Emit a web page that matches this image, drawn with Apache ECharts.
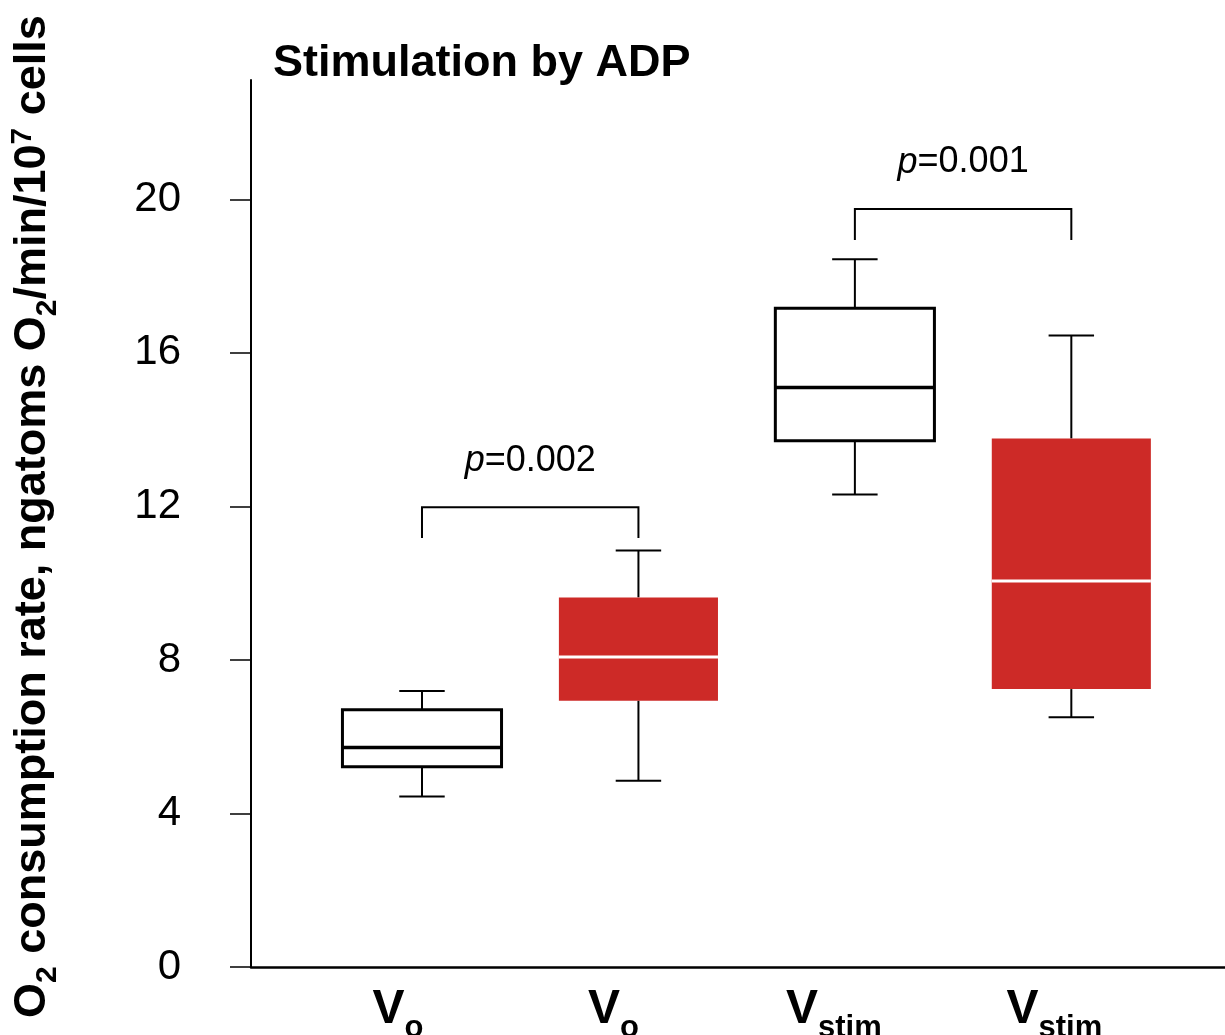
<!DOCTYPE html>
<html>
<head>
<meta charset="utf-8">
<script src="https://cdn.jsdelivr.net/npm/echarts@6/dist/echarts.min.js"></script>
<style>
  html, body { margin: 0; padding: 0; background: #fff; }
  #chart { width: 1225px; height: 1035px; }
</style>
</head>
<body>
<div id="chart"></div>
<script>
// Groups along the x axis (main letter + subscript)
const groupMain = ['V', 'V', 'V', 'V'];
const groupSub = ['o', 'o', 'stim', 'stim'];

// Box statistics, O2 consumption rate (ngatoms O2/min/10^7 cells)
const boxLow    = [4.44, 4.85, 12.31, 6.51];
const boxQ1     = [5.22, 6.94, 13.71, 7.24];
const boxMedian = [5.72, 8.08, 15.10, 10.06];
const boxQ3     = [6.70, 9.63, 17.16, 13.77];
const boxHigh   = [7.19, 10.85, 18.44, 16.45];

// Significance brackets between pairs of groups
const pValues      = ['0.002', '0.001'];
const bracketFrom  = [1, 3];
const bracketTo    = [2, 4];
const bracketTop   = [11.98, 19.75];
const bracketFoot  = [11.18, 18.94];
const pLabelLevel  = [13.18, 20.96];

// Y axis tick values
const yTicks = [0, 4, 8, 12, 16, 20];

const FONT = '"Liberation Sans", Arial, Helvetica, sans-serif';
const RED = '#CD2A27';
const boxFill = [null, RED, null, RED];
const BOX_WIDTH = 0.735;
const CAP_WIDTH = 0.21;
const labelNudge = [48, 50, 42, 34];

const chart = echarts.init(document.getElementById('chart'), null, { renderer: 'canvas' });

const boxData = boxLow.map((v, i) => [i + 1, boxLow[i], boxQ1[i], boxMedian[i], boxQ3[i], boxHigh[i]]);
const bracketData = pValues.map((p, i) => [bracketFrom[i], bracketTo[i], bracketTop[i], bracketFoot[i], pLabelLevel[i]]);

function renderBox(params, api) {
  const i = params.dataIndex;
  const x = api.value(0);
  const half = api.size([BOX_WIDTH, 0])[0] / 2;
  const capHalf = api.size([CAP_WIDTH, 0])[0] / 2;
  const cx = api.coord([x, 0])[0];
  const yLo = api.coord([x, api.value(1)])[1];
  const yQ1 = api.coord([x, api.value(2)])[1];
  const yMed = api.coord([x, api.value(3)])[1];
  const yQ3 = api.coord([x, api.value(4)])[1];
  const yHi = api.coord([x, api.value(5)])[1];
  const filled = boxFill[i] !== null;
  const whisker = { stroke: '#000', lineWidth: 2 };
  const children = [
    { type: 'line', shape: { x1: cx, y1: yQ3, x2: cx, y2: yHi }, style: whisker },
    { type: 'line', shape: { x1: cx - capHalf, y1: yHi, x2: cx + capHalf, y2: yHi }, style: whisker },
    { type: 'line', shape: { x1: cx, y1: yQ1, x2: cx, y2: yLo }, style: whisker },
    { type: 'line', shape: { x1: cx - capHalf, y1: yLo, x2: cx + capHalf, y2: yLo }, style: whisker },
    {
      type: 'rect',
      shape: { x: cx - half, y: yQ3, width: half * 2, height: yQ1 - yQ3 },
      style: filled ? { fill: boxFill[i], stroke: null } : { fill: '#fff', stroke: '#000', lineWidth: 3 }
    },
    {
      type: 'line',
      shape: { x1: cx - half, y1: yMed, x2: cx + half, y2: yMed },
      style: { stroke: filled ? '#fff' : '#000', lineWidth: filled ? 3 : 3.5 }
    }
  ];
  return { type: 'group', children };
}

function renderBracket(params, api) {
  const x1 = api.value(0), x2 = api.value(1);
  const top = api.value(2), foot = api.value(3), lab = api.value(4);
  const a = api.coord([x1, foot]);
  const b = api.coord([x1, top]);
  const c = api.coord([x2, top]);
  const d = api.coord([x2, foot]);
  const t = api.coord([(x1 + x2) / 2, lab]);
  return {
    type: 'group',
    children: [
      {
        type: 'polyline',
        shape: { points: [a, b, c, d] },
        style: { stroke: '#000', lineWidth: 2, fill: null }
      },
      {
        type: 'text',
        x: t[0], y: t[1],
        style: {
          text: '{i|p}=' + pValues[params.dataIndex],
          align: 'center', verticalAlign: 'middle',
          fontFamily: FONT, fontSize: 36, fill: '#000',
          rich: { i: { fontStyle: 'italic', fontFamily: FONT, fontSize: 36 } }
        }
      }
    ]
  };
}

const option = {
  animation: false,
  backgroundColor: '#fff',
  title: {
    text: 'Stimulation by ADP',
    left: 273, top: 41, padding: 0,
    textStyle: { fontFamily: FONT, fontSize: 45, fontWeight: 'bold', color: '#000', lineHeight: 45 }
  },
  grid: { left: 251, right: 0, top: 80, bottom: 68, containLabel: false, outerBoundsMode: 'none' },
  xAxis: {
    type: 'value', min: 0.21, max: 4.71,
    splitLine: { show: false },
    axisTick: { show: false },
    axisLine: { show: true, onZero: false, lineStyle: { color: '#000', width: 2.5 } },
    axisLabel: {
      customValues: [1, 2, 3, 4],
      margin: 8,
      formatter: v => {
        const i = Math.round(v) - 1;
        return '{v|' + groupMain[i] + '}{s|' + groupSub[i] + '}{g' + i + '| }';
      },
      rich: {
        v: { fontFamily: FONT, fontSize: 48, fontWeight: 'bold', color: '#000' },
        s: { fontFamily: FONT, fontSize: 31, fontWeight: 'bold', color: '#000', padding: [38, 0, 0, 0] },
        g0: { width: labelNudge[0] }, g1: { width: labelNudge[1] },
        g2: { width: labelNudge[2] }, g3: { width: labelNudge[3] }
      }
    }
  },
  yAxis: {
    type: 'value', min: 0, max: 23.11,
    splitLine: { show: false },
    axisLine: { show: true, lineStyle: { color: '#000', width: 2 } },
    axisTick: { show: true, customValues: yTicks, length: 21, lineStyle: { color: '#000', width: 1.5 } },
    axisLabel: {
      customValues: yTicks, margin: 70,
      fontFamily: FONT, fontSize: 42, color: '#000'
    },
    name: '{b|O}{sub|2}{b| consumption rate, ngatoms O}{sub|2}{b|/min/10}{sup|7}{b| cells}',
    nameLocation: 'middle',
    nameRotate: 90,
    nameGap: 188,
    nameTextStyle: {
      padding: [0, 0, 0, 14],
      rich: {
        b: { fontFamily: FONT, fontSize: 45, fontWeight: 'bold', color: '#000' },
        sub: { fontFamily: FONT, fontSize: 30, fontWeight: 'bold', color: '#000', padding: [30, 0, 0, 0] },
        sup: { fontFamily: FONT, fontSize: 30, fontWeight: 'bold', color: '#000', padding: [0, 0, 20, 0] }
      }
    }
  },
  series: [
    {
      type: 'custom',
      name: 'boxes',
      renderItem: renderBox,
      encode: { x: 0, y: [1, 2, 3, 4, 5] },
      data: boxData,
      clip: false,
      z: 3
    },
    {
      type: 'custom',
      name: 'brackets',
      renderItem: renderBracket,
      encode: { x: [0, 1], y: [2, 3, 4] },
      data: bracketData,
      clip: false,
      z: 4
    }
  ]
};

chart.setOption(option);
</script>
</body>
</html>
